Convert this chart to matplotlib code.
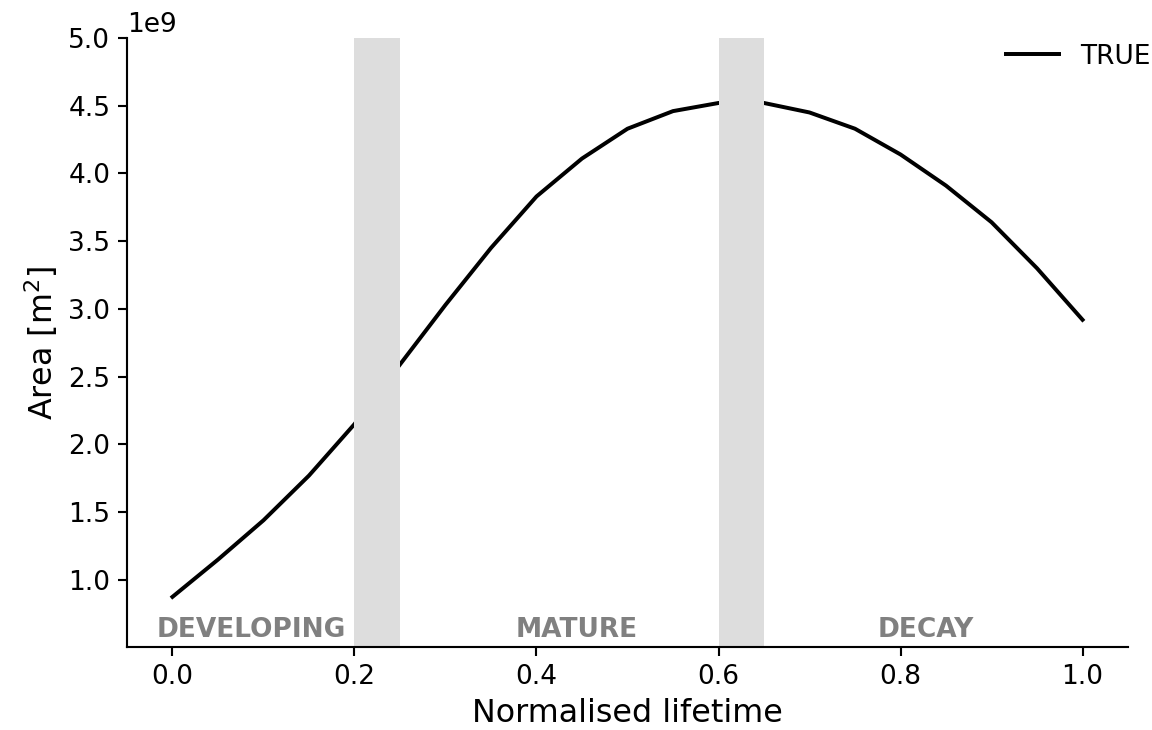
import numpy as np
import matplotlib
matplotlib.use('Agg')
import matplotlib.pyplot as plt

# normalised lifetime and area (m^2)
lifetime = [0.0, 0.05, 0.1, 0.15, 0.2, 0.25, 0.3, 0.35, 0.4, 0.45, 0.5,
            0.55, 0.6, 0.65, 0.7, 0.75, 0.8, 0.85, 0.9, 0.95, 1.0]
area = [0.875, 1.15, 1.44, 1.77, 2.15, 2.59, 3.03, 3.45, 3.83, 4.11, 4.33,
        4.46, 4.52, 4.52, 4.45, 4.33, 4.14, 3.91, 3.64, 3.30, 2.92]
area = np.array(area) * 1e9

# transition periods
bands = [(0.2, 0.25), (0.6, 0.65)]
phases = ['DEVELOPING', 'MATURE', 'DECAY']
phase_x = [0.087, 0.444, 0.828]

s = 1.27
plt.rcParams.update({
    'font.size': 10 * s,
    'axes.linewidth': 0.8 * s,
    'xtick.major.size': 3.5 * s,
    'ytick.major.size': 3.5 * s,
    'xtick.major.width': 0.8 * s,
    'ytick.major.width': 0.8 * s,
})

fig = plt.figure(figsize=(7.68, 4.8667), dpi=150)
ax = fig.add_axes([0.1102, 0.1137, 0.869, 0.8343])

ax.plot(lifetime, area, color='k', lw=1.5 * s, label='TRUE', zorder=1)
for b0, b1 in bands:
    ax.axvspan(b0, b1, color='#dddddd', lw=0, zorder=2)

for name, xp in zip(phases, phase_x):
    ax.text(xp, 0.63e9, name, ha='center', va='center', color='grey',
            fontweight='bold', fontsize=10 * s, zorder=3)

ax.set_xlim(-0.05, 1.05)
ax.set_ylim(0.505e9, 5e9)
ax.set_xlabel('Normalised lifetime', fontsize=12 * s)
ax.set_ylabel('Area [m$^2$]', fontsize=12 * s)
ax.spines['top'].set_visible(False)
ax.spines['right'].set_visible(False)
ax.legend(loc='upper right', frameon=False, bbox_to_anchor=(1.046, 1.03))

fig.savefig('out.png', dpi=150)
